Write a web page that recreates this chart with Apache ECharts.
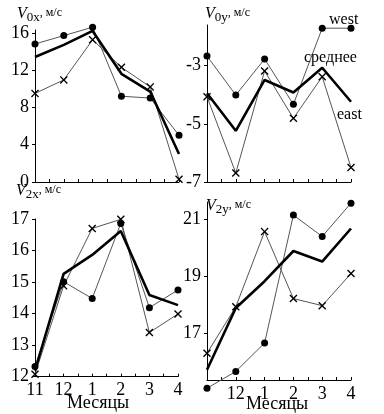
<!DOCTYPE html>
<html><head><meta charset="utf-8">
<script src="https://cdn.jsdelivr.net/npm/echarts@6/dist/echarts.min.js"></script>
<style>html,body{margin:0;padding:0;background:#fff}#c{width:384px;height:414px}</style>
</head><body><div id="c"></div>
<script>
const months = ['11','12','1','2','3','4'];
// V0x
const v0xWest = [14.8, 15.7, 16.6, 9.2, 9.0, 5.0];
const v0xEast = [9.5, 10.95, 15.25, 12.3, 10.2, 0.3];
const v0xMean = [13.4, 14.7, 16.2, 11.6, 9.7, 3.0];
// V0y
const v0yWest = [-2.67, -4.01, -2.77, -4.33, -1.71, -1.71];
const v0yEast = [-4.07, -6.69, -3.18, -4.81, -3.38, -6.5];
const v0yMean = [-3.95, -5.24, -3.49, -3.92, -3.07, -4.24];
// V2x
const v2xWest = [12.32, 15.01, 14.48, 16.86, 14.19, 14.75];
const v2xEast = [12.08, 14.88, 16.70, 16.99, 13.40, 13.99];
const v2xMean = [12.19, 15.26, 15.86, 16.62, 14.59, 14.27];
// V2y
const v2yWest = [15.06, 15.65, 16.65, 21.14, 20.39, 21.56];
const v2yEast = [16.29, 17.92, 20.56, 18.21, 17.96, 19.09];
const v2yMean = [15.71, 17.88, 18.82, 19.88, 19.51, 20.67];

const yTicks0x = [0, 4, 8, 12, 16];
const yTicks0y = [-7, -5, -3];
const yTicks2x = [12, 13, 14, 15, 16, 17];
const yTicks2y = [17, 19, 21];

const FONT = '"Liberation Serif","DejaVu Serif",serif';
const chart = echarts.init(document.getElementById('c'), null, {renderer: 'canvas'});

const grids = [
  {left: 35, width: 144, top: 30, height: 152},
  {left: 207, width: 144, top: 25, height: 157},
  {left: 35, width: 143, top: 219, height: 157.7},
  {left: 207, width: 144, top: 202, height: 178}
];
const yRanges = [
  {min: 0, max: 16.3, ticks: yTicks0x},
  {min: -7, max: -1.6, ticks: yTicks0y},
  {min: 12, max: 17, ticks: yTicks2x},
  {min: 15.35, max: 21.6, ticks: yTicks2y}
];
const showX = [false, false, true, true];
const xLabelIdx = [[], [], [0,1,2,3,4,5], [1,2,3,4,5]];
const dataSets = [
  [v0xWest, v0xEast, v0xMean],
  [v0yWest, v0yEast, v0yMean],
  [v2xWest, v2xEast, v2xMean],
  [v2yWest, v2yEast, v2yMean]
];
const cross = 'path://M0,1.2L1.2,0L5,3.8L8.8,0L10,1.2L6.2,5L10,8.8L8.8,10L5,6.2L1.2,10L0,8.8L3.8,5Z';
const toPts = arr => arr.map((v, i) => [i, v]);

const xAxis = [], yAxis = [], series = [];
grids.forEach((g, k) => {
  xAxis.push({
    gridIndex: k, type: 'value', min: 0, max: 5, interval: 0.5,
    axisLine: {show: true, lineStyle: {color: '#000', width: 1}},
    axisTick: {show: true, inside: true, length: 3, lineStyle: {color: '#000'}},
    splitLine: {show: false},
    axisLabel: {
      show: showX[k], customValues: xLabelIdx[k], margin: 5,
      formatter: v => months[Math.round(v)],
      color: '#000', fontFamily: FONT, fontSize: 18
    }
  });
  const r = yRanges[k];
  yAxis.push({
    gridIndex: k, type: 'value', min: r.min, max: r.max,
    axisLine: {show: true, lineStyle: {color: '#000', width: 1}},
    axisTick: {show: true, customValues: r.ticks, length: 3, lineStyle: {color: '#000'}},
    splitLine: {show: false},
    axisLabel: {customValues: r.ticks, margin: 6, color: '#000', fontFamily: FONT, fontSize: 18}
  });
  const [w, e, m] = dataSets[k];
  series.push({
    type: 'line', xAxisIndex: k, yAxisIndex: k, data: toPts(w), clip: false,
    symbol: 'circle', symbolSize: 7, itemStyle: {color: '#000'},
    lineStyle: {color: '#555', width: 1}, animation: false, z: 3
  });
  series.push({
    type: 'line', xAxisIndex: k, yAxisIndex: k, data: toPts(e), clip: false,
    symbol: cross, symbolSize: 8, itemStyle: {color: '#000'},
    lineStyle: {color: '#555', width: 1}, animation: false, z: 3
  });
  series.push({
    type: 'line', xAxisIndex: k, yAxisIndex: k, data: toPts(m), clip: false,
    symbol: 'none', lineStyle: {color: '#000', width: 2.6}, animation: false, z: 4
  });
});

function axTitle(x, y, sub) {
  return {
    type: 'text', left: x, top: y, z: 10,
    style: {
      rich: {
        v: {fontFamily: FONT, fontStyle: 'italic', fontSize: 16, fill: '#000'},
        s: {fontFamily: FONT, fontSize: 13, fill: '#000', padding: [8, 0, 0, 0]},
        u: {fontFamily: FONT, fontSize: 12, fill: '#000', padding: [0, 0, 2, 0]}
      },
      text: '{v|V}{s|' + sub + '}{u|, м/с}'
    }
  };
}
function txt(x, y, t, size) {
  return {type: 'text', left: x, top: y, z: 10,
    style: {text: t, fontFamily: FONT, fontSize: size, fill: '#000'}};
}

chart.setOption({
  backgroundColor: '#fff',
  animation: false,
  grid: grids,
  xAxis, yAxis, series,
  graphic: [
    axTitle(17, 6, '0x'),
    axTitle(205, 6, '0y'),
    axTitle(16, 183, '2x'),
    axTitle(206, 198, '2y'),
    txt(329, 12, 'west', 16),
    txt(304, 50, 'среднее', 16),
    txt(337, 107, 'east', 16),
    txt(67, 394, 'Месяцы', 18),
    txt(246, 395, 'Месяцы', 18)
  ]
});
</script></body></html>
